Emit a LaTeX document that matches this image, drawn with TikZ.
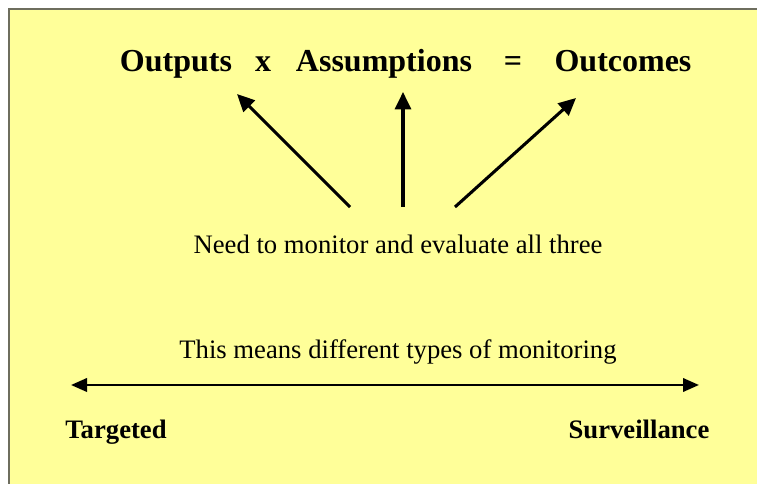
\documentclass[tikz,border=0pt]{standalone}
\usepackage{fontspec}
\setmainfont{Liberation Serif}
\usetikzlibrary{arrows.meta}
\definecolor{bgyellow}{HTML}{FFFF99}
\definecolor{framegray}{HTML}{6E6E5E}
\tikzset{
  word/.style={font=\fontsize{24}{28}\selectfont\bfseries, inner sep=0pt, anchor=base},
  label/.style={font=\fontsize{20}{24}\selectfont, inner sep=0pt, anchor=base},
  endlabel/.style={font=\fontsize{20}{24}\selectfont\bfseries, inner sep=0pt, anchor=base},
  arr/.style={line width=2.3pt, -{Triangle[length=13pt,width=12pt]}},
  darr/.style={line width=2pt, {Triangle[length=12pt,width=10pt]}-{Triangle[length=12pt,width=10pt]}}
}
\begin{document}
\begin{tikzpicture}[x=0.75pt,y=-0.75pt]
\useasboundingbox (0,0) rectangle (757,484);
\fill[white] (0,0) rectangle (757,484);
\fill[bgyellow] (9,9) rectangle (757,484);
\draw[framegray, line width=1.5pt] (9,490) -- (9,9) -- (760,9);
% top words
\node[word] (out) at (176,72) {Outputs};
\node[word] (x) at (263,72) {x};
\node[word] (ass) at (384,72) {Assumptions};
\node[word] (eq) at (513,72) {=};
\node[word] (outc) at (623,72) {Outcomes};
% arrows
\coordinate (s1) at (350,207);
\coordinate (e1) at (237,94);
\coordinate (s2) at (403,207);
\coordinate (e2) at (403,92);
\coordinate (s3) at (455,207);
\coordinate (e3) at (576,98);
\draw[arr] (s1) -- (e1);
\draw[arr] (s2) -- (e2);
\draw[arr] (s3) -- (e3);
\node[label] (need) at (398,254) {Need to monitor and evaluate all three};
\node[label] (means) at (398,359) {This means different types of monitoring};
\coordinate (l) at (71,385);
\coordinate (r) at (699,385);
\draw[darr] (l) -- (r);
\node[endlabel] (tg) at (116,439) {Targeted};
\node[endlabel] (sv) at (639,439) {Surveillance};
\end{tikzpicture}
\end{document}
